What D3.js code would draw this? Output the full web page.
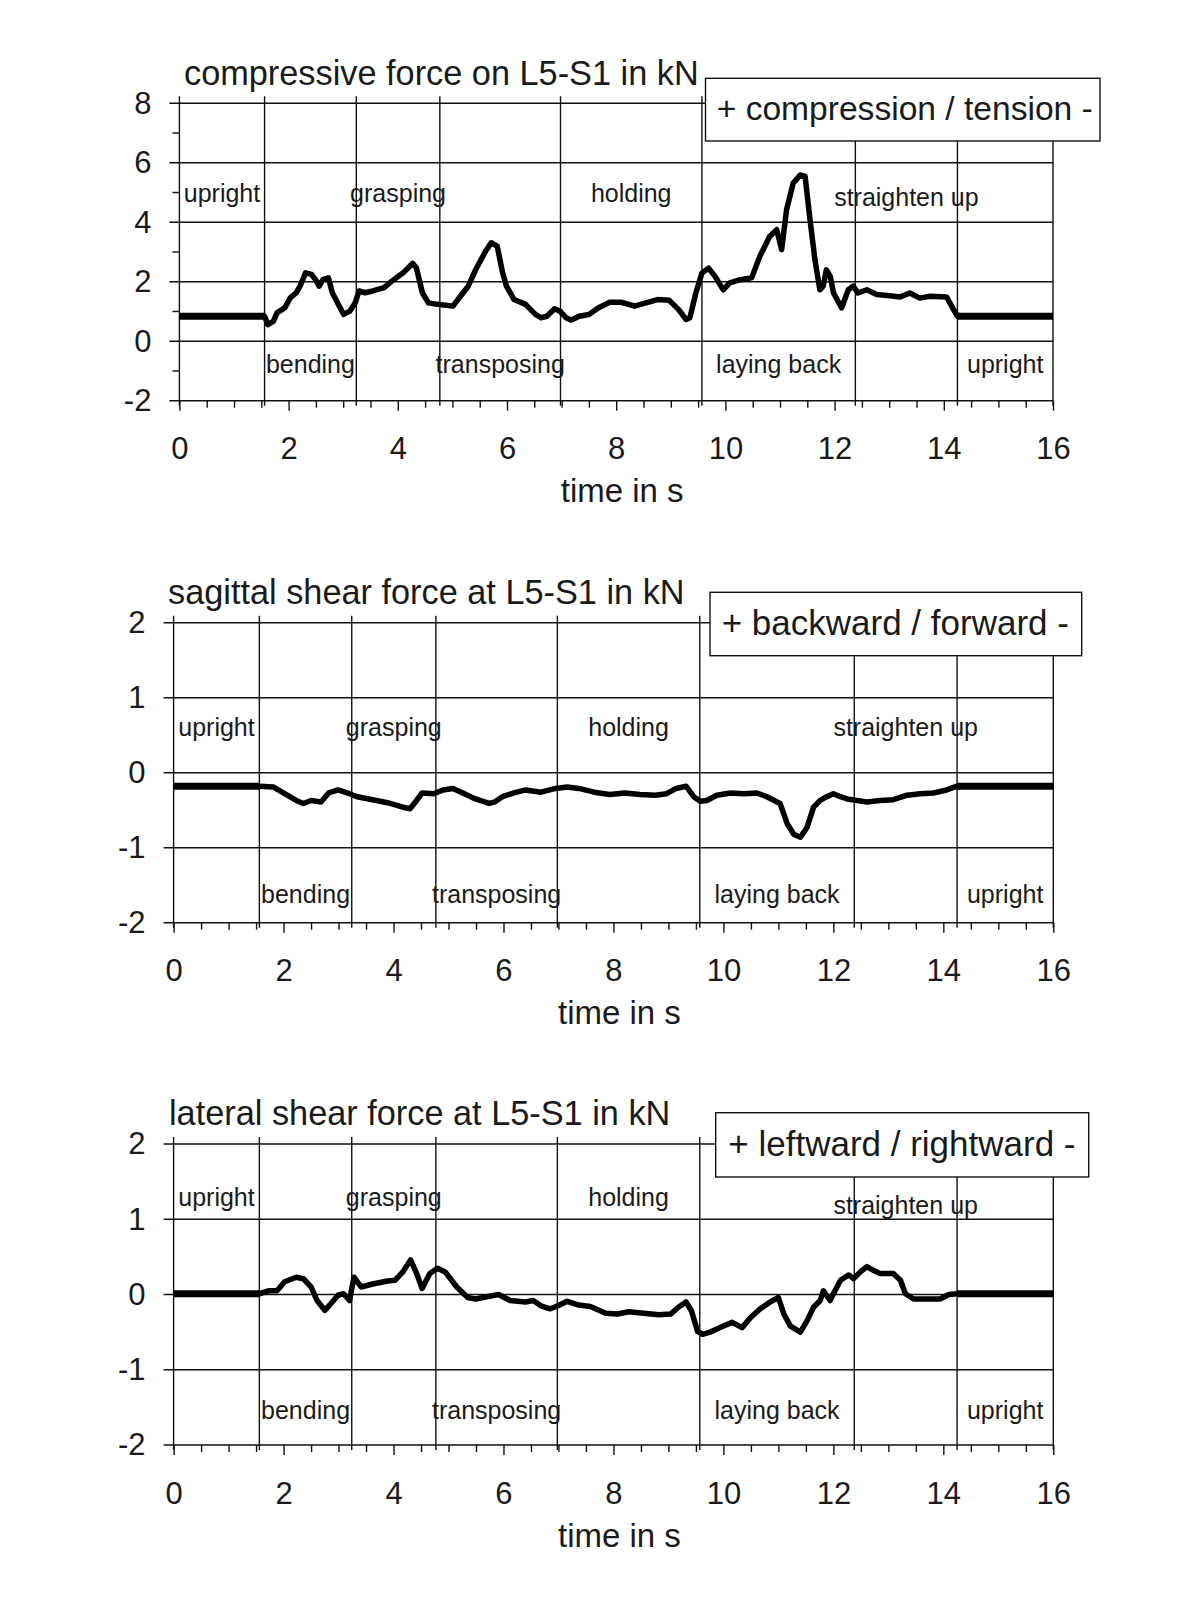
<!DOCTYPE html>
<html>
<head>
<meta charset="utf-8">
<script src="https://cdn.jsdelivr.net/npm/d3@7"></script>
<style>
  body { margin: 0; background: #fff; }
  svg { display: block; }
  text { font-family: "Liberation Sans", Arial, sans-serif; fill: #1a1a1a; }
</style>
</head>
<body>
<svg width="1200" height="1598"></svg>
<script>
// ---- Dados
const titles = [
    'compressive force on L5-S1 in kN',
    'sagittal shear force at L5-S1 in kN',
    'lateral shear force at L5-S1 in kN'
];
const legendTexts = ['+ compression / tension -', '+ backward / forward -', '+ leftward / rightward -'];
const xLabel = 'time in s';
const xTicks = [0, 2, 4, 6, 8, 10, 12, 14, 16];
const yTicksCompressive = [-2, 0, 2, 4, 6, 8];
const yMinorCompressive = [-1, 1, 3, 5, 7];
const yTicksShear = [-2, -1, 0, 1, 2];

const phaseNames = ['upright', 'bending', 'grasping', 'transposing', 'holding', 'laying back', 'straighten up', 'upright'];
const phaseBounds = [1.56, 3.24, 4.77, 6.98, 9.57, 12.38, 14.25];

// [tempo em s, força em kN]
const compressive = [[0,0.84],[1.56,0.84],[1.62,0.56],[1.72,0.67],[1.79,0.96],[1.93,1.12],[2.03,1.46],[2.14,1.63],[2.21,1.85],[2.31,2.30],[2.42,2.25],[2.49,2.08],[2.56,1.85],[2.63,2.08],[2.73,2.13],[2.80,1.63],[2.91,1.24],[3.01,0.90],[3.12,1.01],[3.22,1.29],[3.29,1.69],[3.40,1.63],[3.54,1.69],[3.75,1.80],[3.89,2.02],[4.10,2.30],[4.27,2.62],[4.34,2.47],[4.45,1.63],[4.56,1.29],[4.73,1.24],[5.01,1.18],[5.15,1.52],[5.29,1.85],[5.43,2.42],[5.61,3.03],[5.71,3.31],[5.82,3.20],[5.92,2.30],[5.99,1.85],[6.13,1.40],[6.34,1.24],[6.52,0.90],[6.62,0.79],[6.73,0.84],[6.87,1.09],[6.97,1.01],[7.08,0.79],[7.18,0.71],[7.32,0.84],[7.50,0.90],[7.67,1.12],[7.88,1.31],[8.09,1.31],[8.34,1.18],[8.51,1.27],[8.76,1.40],[8.97,1.38],[9.14,1.07],[9.28,0.73],[9.35,0.79],[9.46,1.63],[9.57,2.29],[9.69,2.46],[9.81,2.18],[9.96,1.73],[10.08,1.96],[10.27,2.07],[10.48,2.13],[10.63,2.85],[10.81,3.52],[10.94,3.75],[11.03,3.08],[11.12,4.42],[11.24,5.31],[11.37,5.59],[11.46,5.54],[11.55,4.08],[11.64,2.74],[11.73,1.73],[11.79,1.85],[11.85,2.40],[11.92,2.18],[11.98,1.62],[12.13,1.12],[12.25,1.73],[12.34,1.85],[12.43,1.62],[12.59,1.73],[12.77,1.57],[13.01,1.53],[13.20,1.49],[13.38,1.62],[13.56,1.45],[13.75,1.51],[14.05,1.49],[14.18,1.06],[14.25,0.84],[16,0.84]];

const sagittal = [[0,-0.18],[1.56,-0.18],[1.81,-0.19],[2.02,-0.28],[2.23,-0.37],[2.36,-0.41],[2.50,-0.37],[2.68,-0.39],[2.82,-0.27],[2.99,-0.23],[3.20,-0.28],[3.34,-0.32],[3.62,-0.36],[3.89,-0.40],[4.17,-0.46],[4.30,-0.48],[4.42,-0.37],[4.52,-0.27],[4.73,-0.28],[4.90,-0.23],[5.08,-0.21],[5.29,-0.28],[5.49,-0.35],[5.74,-0.41],[5.84,-0.39],[5.98,-0.32],[6.19,-0.27],[6.40,-0.23],[6.68,-0.26],[6.95,-0.21],[7.16,-0.19],[7.37,-0.21],[7.65,-0.26],[7.93,-0.29],[8.21,-0.27],[8.48,-0.29],[8.76,-0.30],[8.97,-0.28],[9.14,-0.21],[9.32,-0.18],[9.46,-0.32],[9.58,-0.38],[9.70,-0.37],[9.88,-0.30],[10.13,-0.27],[10.37,-0.28],[10.61,-0.27],[10.79,-0.32],[11.03,-0.41],[11.16,-0.68],[11.28,-0.82],[11.40,-0.86],[11.52,-0.73],[11.64,-0.46],[11.76,-0.37],[11.88,-0.32],[12.00,-0.28],[12.13,-0.32],[12.25,-0.35],[12.43,-0.37],[12.61,-0.39],[12.85,-0.37],[13.09,-0.36],[13.34,-0.30],[13.58,-0.28],[13.82,-0.27],[14.06,-0.23],[14.25,-0.18],[16,-0.18]];

const lateral = [[0,0.01],[1.56,0.01],[1.74,0.05],[1.88,0.05],[2.02,0.17],[2.23,0.23],[2.36,0.21],[2.50,0.10],[2.61,-0.08],[2.75,-0.21],[2.85,-0.13],[2.99,-0.01],[3.09,0.01],[3.20,-0.08],[3.28,0.23],[3.41,0.10],[3.62,0.14],[3.89,0.18],[4.03,0.19],[4.17,0.30],[4.31,0.46],[4.42,0.28],[4.52,0.08],[4.66,0.28],[4.80,0.35],[4.94,0.30],[5.15,0.10],[5.35,-0.04],[5.49,-0.06],[5.70,-0.03],[5.91,0.00],[6.12,-0.08],[6.40,-0.10],[6.54,-0.08],[6.68,-0.15],[6.85,-0.19],[6.99,-0.15],[7.16,-0.09],[7.37,-0.14],[7.58,-0.16],[7.86,-0.25],[8.07,-0.26],[8.28,-0.23],[8.55,-0.25],[8.83,-0.27],[9.04,-0.26],[9.18,-0.17],[9.32,-0.10],[9.42,-0.22],[9.53,-0.49],[9.62,-0.53],[9.76,-0.50],[9.94,-0.44],[10.16,-0.37],[10.34,-0.44],[10.49,-0.31],[10.67,-0.19],[10.85,-0.10],[11.00,-0.04],[11.10,-0.26],[11.22,-0.42],[11.40,-0.50],[11.52,-0.35],[11.64,-0.17],[11.76,-0.08],[11.82,0.05],[11.94,-0.08],[12.00,0.01],[12.13,0.19],[12.28,0.26],[12.37,0.21],[12.49,0.30],[12.61,0.37],[12.73,0.32],[12.85,0.28],[13.09,0.28],[13.22,0.19],[13.31,0.01],[13.46,-0.06],[13.70,-0.06],[13.94,-0.06],[14.10,0.00],[14.25,0.01],[16,0.01]];

// ---- Layout de cada painel
const panels = [
    { series: compressive, yDomain: [-2, 8], yTicks: yTicksCompressive, yMinor: yMinorCompressive,
      left: 179.4, right: 1053, top: 103.3, bottom: 400.7, titleX: 184, titleY: 85,
      box: { x: 705.5, y: 78.3, w: 394.5, h: 62.7, tx: 716.7, size: 33.6 }, rowTop: 4.67, rowBottom: -1.06, drop: 4 },
    { series: sagittal, yDomain: [-2, 2], yTicks: yTicksShear, yMinor: [],
      left: 173.6, right: 1053.3, top: 622.7, bottom: 922.7, titleX: 168, titleY: 604,
      box: { x: 710, y: 592.3, w: 371.7, h: 63.4, tx: 721.7, size: 35 }, rowTop: 0.49, rowBottom: -1.74, drop: 0 },
    { series: lateral, yDomain: [-2, 2], yTicks: yTicksShear, yMinor: [],
      left: 173.6, right: 1053.3, top: 1144, bottom: 1445, titleX: 169, titleY: 1125,
      box: { x: 715.7, y: 1112.7, w: 373, h: 64.3, tx: 728.3, size: 35 }, rowTop: 1.18, rowBottom: -1.65, drop: 8 }
];

const svg = d3.select('svg');
const ink = '#111';

function drawPanel(p, i) {
    const g = svg.append('g').attr('class', 'panel');
    const mapX = d3.scaleLinear().domain([0, 16]).range([p.left, p.right]);
    const mapY = d3.scaleLinear().domain(p.yDomain).range([p.bottom, p.top]);

    // ---- Grade horizontal (estende 10px à esquerda do eixo)
    g.selectAll('.hgrid').data(p.yTicks).join('line')
        .attr('class', 'hgrid')
        .attr('x1', p.left - 10).attr('x2', p.right)
        .attr('y1', d => mapY(d)).attr('y2', d => mapY(d))
        .attr('stroke', ink).attr('stroke-width', 1.4);

    g.selectAll('.yminor').data(p.yMinor).join('line')
        .attr('class', 'yminor')
        .attr('x1', p.left - 7).attr('x2', p.left)
        .attr('y1', d => mapY(d)).attr('y2', d => mapY(d))
        .attr('stroke', ink).attr('stroke-width', 1.4);

    // ---- Linhas verticais: eixo, fases, borda direita
    const verticals = [0, ...phaseBounds, 16];
    g.selectAll('.vline').data(verticals).join('line')
        .attr('class', 'vline')
        .attr('x1', d => mapX(d)).attr('x2', d => mapX(d))
        .attr('y1', d => d === 16 ? p.top : p.top - 7)
        .attr('y2', p.bottom + 5)
        .attr('stroke', ink).attr('stroke-width', 1.4);

    // ---- Eixo X
    const minorAxis = d3.axisBottom(mapX)
        .tickValues(d3.range(0, 16.01, 0.5).filter(d => d % 2 !== 0))
        .tickSize(7).tickFormat('');
    g.append('g')
        .attr('transform', `translate(0, ${p.bottom})`)
        .call(minorAxis)
        .call(s => s.select('.domain').remove())
        .call(s => s.selectAll('line').attr('stroke', ink).attr('stroke-width', 1.4));

    const xAxis = d3.axisBottom(mapX).tickValues(xTicks).tickSize(10).tickFormat(d => String(d));
    g.append('g')
        .attr('transform', `translate(0, ${p.bottom})`)
        .call(xAxis)
        .call(s => s.select('.domain').remove())
        .call(s => s.selectAll('line').attr('stroke', ink).attr('stroke-width', 1.4))
        .call(s => s.selectAll('text')
            .attr('y', 58.5).attr('dy', 0)
            .attr('font-size', '31px').attr('fill', '#1a1a1a')
            .attr('font-family', '"Liberation Sans", Arial, sans-serif'));

    // ---- Eixo Y (só rótulos, a grade faz os traços)
    const yAxis = d3.axisLeft(mapY).tickValues(p.yTicks).tickSize(0).tickPadding(28).tickFormat(d => String(d));
    g.append('g')
        .attr('transform', `translate(${p.left}, 0)`)
        .call(yAxis)
        .call(s => s.select('.domain').remove())
        .call(s => s.selectAll('text')
            .attr('font-size', '31px').attr('fill', '#1a1a1a')
            .attr('font-family', '"Liberation Sans", Arial, sans-serif'));

    g.append('text')
        .attr('x', (p.left + p.right) / 2 + 6)
        .attr('y', p.bottom + 101.5)
        .attr('text-anchor', 'middle')
        .attr('font-size', '33px')
        .text(xLabel);

    // ---- Rótulos das fases (alternando cima/baixo)
    const edges = [0, ...phaseBounds, 16];
    g.selectAll('.phase').data(phaseNames).join('text')
        .attr('class', 'phase')
        .attr('x', (d, k) => mapX((edges[k] + edges[k + 1]) / 2))
        .attr('y', (d, k) => k % 2 === 0
            ? mapY(p.rowTop) + (d === 'straighten up' ? p.drop : 0)
            : mapY(p.rowBottom))
        .attr('text-anchor', 'middle')
        .attr('font-size', '25px')
        .text(d => d);

    // ---- Curva (trechos parados em pé ficam mais grossos)
    const line = d3.line().x(d => mapX(d[0])).y(d => mapY(d[1]));
    g.append('path')
        .datum(p.series)
        .attr('d', line)
        .attr('fill', 'none')
        .attr('stroke', '#000')
        .attr('stroke-width', 5.5)
        .attr('stroke-linejoin', 'round');

    g.selectAll('.flat').data([p.series.slice(0, 2), p.series.slice(-2)]).join('path')
        .attr('class', 'flat')
        .attr('d', line)
        .attr('fill', 'none')
        .attr('stroke', '#000')
        .attr('stroke-width', 7);

    // ---- Caixa de legenda
    g.append('rect')
        .attr('x', p.box.x).attr('y', p.box.y)
        .attr('width', p.box.w).attr('height', p.box.h)
        .attr('fill', '#fff').attr('stroke', ink).attr('stroke-width', 1.4);
    g.append('text')
        .attr('x', p.box.tx)
        .attr('y', p.box.y + p.box.h / 2)
        .attr('dy', '0.32em')
        .attr('font-size', `${p.box.size}px`)
        .text(legendTexts[i]);

    // ---- Título
    g.append('text')
        .attr('x', p.titleX).attr('y', p.titleY)
        .attr('font-size', '34.3px')
        .text(titles[i]);
}

panels.forEach(drawPanel);
</script>
</body>
</html>
